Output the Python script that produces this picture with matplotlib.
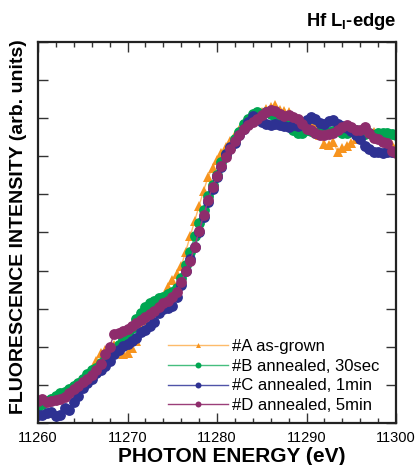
import numpy as np
import matplotlib.pyplot as plt
from matplotlib.ticker import MultipleLocator, NullFormatter

plt.rcParams['font.family'] = ['Liberation Sans', 'DejaVu Sans']
plt.rcParams['mathtext.fontset'] = 'custom'
plt.rcParams['mathtext.rm'] = 'Liberation Sans'
plt.rcParams['mathtext.bf'] = 'Liberation Sans:bold'

# photon energy grid (eV), 0.5 eV steps from 11260 to 11300
energy = np.arange(11260.0, 11300.01, 0.5)

# fluorescence intensity (arb. units)
sample_a = [0.52, 0.55, 0.58, 0.62, 0.66, 0.72, 0.80, 0.86, 0.92, 1.00,
            1.10, 1.22, 1.38, 1.62, 1.85, 1.92, 1.98, 2.05, 1.88, 1.82,
            1.85, 1.98, 2.15, 2.48, 2.70, 2.90, 3.02, 3.15, 3.30, 3.58,
            3.75, 3.90, 4.12, 4.50, 4.90, 5.30, 5.70, 6.10, 6.45, 6.70,
            6.90, 7.08, 7.25, 7.40, 7.55, 7.70, 7.82, 7.92, 8.00, 8.08,
            8.15, 8.25, 8.30, 8.35, 8.22, 8.18, 8.15, 8.02, 7.90, 7.85,
            7.82, 7.86, 7.80, 7.55, 7.32, 7.30, 7.38, 7.10, 7.22, 7.28,
            7.36, 7.45, 7.52, 7.58, 7.60, 7.64, 7.60, 7.55, 7.48, 7.30,
            7.25]
sample_b = [0.45, 0.50, 0.58, 0.64, 0.70, 0.78, 0.82, 0.90, 0.97, 1.05,
            1.15, 1.28, 1.38, 1.45, 1.58, 1.68, 1.80, 1.95, 2.05, 2.20,
            2.36, 2.50, 2.72, 2.88, 3.05, 3.15, 3.20, 3.28, 3.30, 3.38,
            3.45, 3.55, 3.80, 4.15, 4.50, 4.90, 5.25, 5.60, 5.95, 6.25,
            6.52, 6.85, 7.05, 7.22, 7.45, 7.65, 7.85, 7.98, 8.10, 8.15,
            8.12, 8.16, 8.12, 8.05, 7.98, 7.88, 7.80, 7.70, 7.62, 7.60,
            7.68, 7.66, 7.62, 7.65, 7.70, 7.64, 7.66, 7.68, 7.62, 7.60,
            7.66, 7.70, 7.62, 7.58, 7.60, 7.55, 7.62, 7.60, 7.62, 7.58,
            7.55]
sample_c = [0.22, 0.20, 0.26, 0.30, 0.18, 0.22, 0.40, 0.35, 0.55, 0.72,
            0.92, 1.05, 1.15, 1.30, 1.40, 1.50, 1.62, 1.80, 1.92, 2.02,
            2.08, 2.15, 2.24, 2.38, 2.45, 2.55, 2.65, 2.88, 2.98, 3.02,
            3.08, 3.30, 3.62, 3.98, 4.30, 4.62, 5.00, 5.40, 5.80, 6.15,
            6.45, 6.72, 7.05, 7.25, 7.35, 7.55, 7.72, 7.90, 8.05, 7.98,
            7.90, 7.86, 7.83, 7.84, 7.82, 7.80, 7.78, 7.82, 7.80, 7.88,
            7.95, 8.02, 7.98, 7.88, 7.85, 7.92, 7.95, 7.86, 7.80, 7.74,
            7.66, 7.55, 7.45, 7.28, 7.20, 7.12, 7.10, 7.08, 7.12, 7.10,
            7.12]
sample_d = [0.58, 0.62, 0.55, 0.57, 0.60, 0.62, 0.68, 0.78, 0.88, 0.97,
            1.08, 1.16, 1.27, 1.39, 1.55, 1.80, 2.00, 2.33, 2.36, 2.42,
            2.46, 2.55, 2.63, 2.70, 2.78, 2.86, 2.95, 3.05, 3.14, 3.20,
            3.30, 3.45, 3.70, 4.00, 4.25, 4.62, 5.05, 5.45, 5.85, 6.20,
            6.48, 6.75, 6.98, 7.20, 7.40, 7.56, 7.72, 7.82, 7.90, 7.97,
            8.08, 8.15, 8.22, 8.20, 8.12, 8.05, 8.08, 8.02, 7.98, 7.85,
            7.72, 7.68, 7.60, 7.57, 7.56, 7.58, 7.60, 7.70, 7.77, 7.83,
            7.78, 7.70, 7.68, 7.76, 7.62, 7.48, 7.45, 7.38, 7.34, 7.15,
            7.08]

labels = ['#A as-grown', '#B annealed, 30sec', '#C annealed, 1min', '#D annealed, 5min']
marker_colors = ['#F7941E', '#00A651', '#2E3192', '#8E2C6C']
line_colors = ['#FDBB6A', '#45BE7E', '#4F53A8', '#9B3F79']
markers = ['^', 'o', 'o', 'o']
sizes = [6.5, 7.8, 7.8, 7.8]

fig = plt.figure(figsize=(4.16, 4.65), dpi=100)
ax = fig.add_axes([38 / 416, 1 - 423 / 465, 358 / 416, 381 / 465])

for y, lab, mc, lc, m, s in zip([sample_a, sample_b, sample_c, sample_d], labels,
                                marker_colors, line_colors, markers, sizes):
    ax.plot(energy, y, color=lc, lw=1.0, marker=m, ms=s, mfc=mc, mec=mc, mew=0, label=lab)

ax.set_xlim(11260, 11300)
ax.set_ylim(0, 10)
ax.xaxis.set_major_locator(MultipleLocator(10))
ax.xaxis.set_minor_locator(MultipleLocator(2))
ax.yaxis.set_major_locator(MultipleLocator(1))
ax.yaxis.set_major_formatter(NullFormatter())
ax.tick_params(which='both', direction='in', top=True, right=True, width=1, color='#333333')
ax.tick_params(which='major', length=7, labelsize=10.5, pad=6)
ax.tick_params(which='minor', length=3.5)
for sp in ax.spines.values():
    sp.set_linewidth(1.6)
    sp.set_color('#222222')

ax.set_xlabel('PHOTON ENERGY (eV)', fontsize=15, fontweight='bold')
ax.xaxis.set_label_coords((232 - 38) / 358, -0.062)
ax.set_ylabel('FLUORESCENCE INTENSITY (arb. units)', fontsize=14, fontweight='bold')
ax.yaxis.set_label_coords(-0.03, 0.515)

ax.text(1.0, 1.025, r'Hf L$_\mathbf{I}$-edge', transform=ax.transAxes, ha='right', va='bottom',
        fontsize=13.2, fontweight='bold')

leg = ax.legend(loc='lower left', bbox_to_anchor=(0.335, 0.0), frameon=False, fontsize=12,
                handlelength=3.6, handletextpad=0.25, labelspacing=0.28, markerscale=0.55,
                borderaxespad=0.2)

fig.savefig('out.png', dpi=100)
